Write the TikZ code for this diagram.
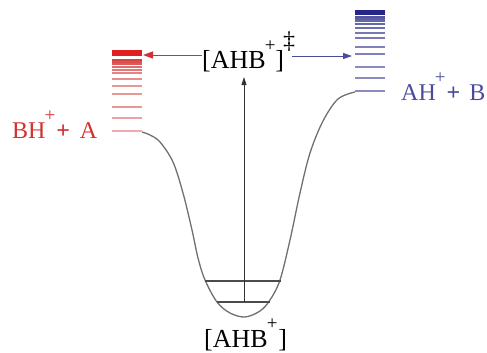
\documentclass[tikz,border=0pt]{standalone}
\usepackage{fontspec}
\setmainfont{Liberation Serif}
\usetikzlibrary{arrows.meta}
\definecolor{rd}{HTML}{D43030}
\definecolor{rdband}{HTML}{E02020}
\definecolor{bl}{HTML}{4B4B9B}
\definecolor{bldark}{HTML}{24248A}
\definecolor{crv}{HTML}{707070}
\newcommand{\plussup}{\raisebox{0.68em}{\fontsize{19}{19}\selectfont +}}
\tikzset{
  lbl/.style={font=\fontsize{26}{28}\selectfont, inner sep=0pt, anchor=base west},
  slbl/.style={font=\fontsize{24}{26}\selectfont, inner sep=0pt, anchor=base west},
  rarr/.style={draw=rd, line width=0.9pt, -{Triangle[length=10pt,width=7pt]}},
  barr/.style={draw=bl, line width=0.9pt, -{Triangle[length=9pt,width=6pt]}},
  varr/.style={draw=black!80, line width=0.9pt, -{Triangle[length=8pt,width=5pt]}},
  pot/.style={draw=crv, line width=1.3pt},
  well/.style={draw=black!70, line width=1.1pt}
}
\begin{document}
\begin{tikzpicture}[x=1pt,y=-1pt]
\useasboundingbox (0,0) rectangle (487,353);
% labels
\node[lbl] (ts) at (202,69) {[AHB\kern-1pt\plussup\kern0pt]\kern-1pt\raisebox{0.78em}{\fontsize{24}{24}\selectfont ‡}};
\node[lbl] (gs) at (204,347) {[AHB\kern-1pt\plussup\kern1pt]};
\node[slbl, text=rd] (lp) at (12,138) {BH\kern-1pt\plussup\kern1pt\textbf{+}\kern10pt A};
\node[slbl, text=bl] (rp) at (401,100) {AH\kern-1pt\plussup\kern1pt\textbf{+}\kern9pt B};
% red levels
\fill[rdband] (112,50) rectangle (142,56);
\foreach \yy/\c in {60/90,62/85,64/80,67/70,70/65,73/60,79/55,86/50,94/50,107/50,118/45,131/40}
  \draw[rd!\c!white, line width=1.1pt] (112,\yy) -- (142,\yy);
% blue levels
\fill[bldark] (355,10) rectangle (385,15);
\foreach \yy/\c in {17/95,19/90,21/85,24/85,28/80,33/75,38/75,47/70,54/70,67/65,78/65,91/65}
  \draw[bl!\c!white, line width=1.1pt] (355,\yy) -- (385,\yy);
% potential curve
\draw[pot] plot[smooth, tension=0.55] coordinates {(142,132) (150,135) (160,142) (173,162) (183,193) (192,230) (198,258) (205,280) (217,302) (230,313) (245,317) (260,311) (270,300) (280,280) (290,240) (300,193) (310,153) (323,121) (338,99) (355,92)};
% well levels
\coordinate (u1) at (205,281); \coordinate (u2) at (281,281);
\coordinate (l1) at (217,302); \coordinate (l2) at (270,302);
\draw[well] (u1) -- (u2);
\draw[well] (l1) -- (l2);
% arrows
\coordinate (rtip) at (143,55);
\coordinate (bstart) at (292,56);
\coordinate (btip) at (352,56);
\coordinate (vtop) at (244,77);
\coordinate (vbot) at (244,302);
\draw[rarr] (ts.west |- rtip) -- (rtip);
\draw[barr] (bstart) -- (btip);
\draw[varr] (vbot) -- (vtop);
\end{tikzpicture}
\end{document}
